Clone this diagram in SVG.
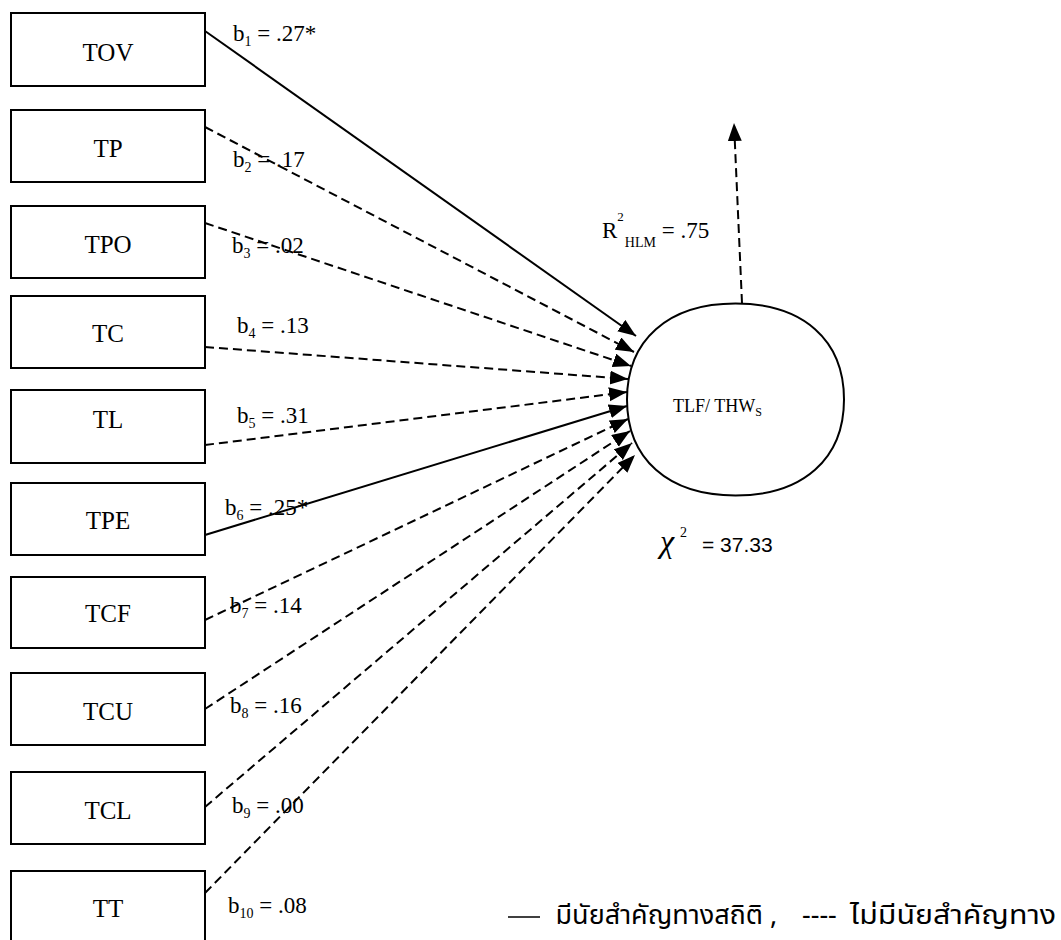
<svg xmlns="http://www.w3.org/2000/svg" width="1061" height="940" viewBox="0 0 1061 940">
<style>
.box{fill:#fff;stroke:#000;stroke-width:2}
.lbl{font-family:"Liberation Serif","Times New Roman",serif;font-size:25px;fill:#000}
.blbl{font-family:"Liberation Serif","Times New Roman",serif;font-size:23px;fill:#000}
.sub{font-size:14px}
.sol{stroke:#000;stroke-width:2;fill:none}
.dsh{stroke:#000;stroke-width:2;fill:none;stroke-dasharray:9 5}
.thai{font-family:"Noto Sans Thai","Loma","Garuda","Tlwg Typo","Norasi","Noto Sans",sans-serif;font-size:27px;fill:#000}
</style>
<defs>
<marker id="ah" markerUnits="userSpaceOnUse" markerWidth="19" markerHeight="15" refX="18" refY="7" orient="auto">
<path d="M0,0 L18,7 L0,14 z" fill="#000"/>
</marker>
</defs>
<g id="connectors">
<line class="sol" x1="205" y1="31" x2="636" y2="336" marker-end="url(#ah)"/>
<line class="dsh" x1="205" y1="127" x2="634" y2="352" marker-end="url(#ah)"/>
<line class="dsh" x1="205" y1="223" x2="631" y2="366" marker-end="url(#ah)"/>
<line class="dsh" x1="205" y1="347" x2="628" y2="379" marker-end="url(#ah)"/>
<line class="dsh" x1="205" y1="445" x2="627" y2="392" marker-end="url(#ah)"/>
<line class="sol" x1="205" y1="535" x2="627" y2="406" marker-end="url(#ah)"/>
<line class="dsh" x1="205" y1="620" x2="628" y2="419" marker-end="url(#ah)"/>
<line class="dsh" x1="205" y1="709" x2="630" y2="431" marker-end="url(#ah)"/>
<line class="dsh" x1="205" y1="807" x2="632" y2="443" marker-end="url(#ah)"/>
<line class="dsh" x1="205" y1="893" x2="635" y2="455" marker-end="url(#ah)"/>
<line class="dsh" x1="742" y1="303" x2="734" y2="123" marker-end="url(#ah)"/>
</g>
<g id="labels">
<text class="blbl" x="233" y="41">b<tspan class="sub" dy="5">1</tspan><tspan dy="-5"> = .27*</tspan></text>
<text class="blbl" x="233" y="167">b<tspan class="sub" dy="5">2</tspan><tspan dy="-5"> = .17</tspan></text>
<text class="blbl" x="232" y="253">b<tspan class="sub" dy="5">3</tspan><tspan dy="-5"> = .02</tspan></text>
<text class="blbl" x="237" y="333">b<tspan class="sub" dy="5">4</tspan><tspan dy="-5"> = .13</tspan></text>
<text class="blbl" x="237" y="423">b<tspan class="sub" dy="5">5</tspan><tspan dy="-5"> = .31</tspan></text>
<text class="blbl" x="225" y="515">b<tspan class="sub" dy="5">6</tspan><tspan dy="-5"> = .25*</tspan></text>
<text class="blbl" x="230" y="613">b<tspan class="sub" dy="5">7</tspan><tspan dy="-5"> = .14</tspan></text>
<text class="blbl" x="230" y="713">b<tspan class="sub" dy="5">8</tspan><tspan dy="-5"> = .16</tspan></text>
<text class="blbl" x="232" y="813">b<tspan class="sub" dy="5">9</tspan><tspan dy="-5"> = .00</tspan></text>
<text class="blbl" x="228" y="913">b<tspan class="sub" dy="5">10</tspan><tspan dy="-5"> = .08</tspan></text>
</g>
<g id="n-TOV"><rect class="box" x="11" y="13" width="194" height="73"/><text class="lbl" x="108" y="61" text-anchor="middle">TOV</text></g>
<g id="n-TP"><rect class="box" x="11" y="110" width="194" height="72"/><text class="lbl" x="108" y="157" text-anchor="middle">TP</text></g>
<g id="n-TPO"><rect class="box" x="11" y="206" width="194" height="72"/><text class="lbl" x="108" y="253" text-anchor="middle">TPO</text></g>
<g id="n-TC"><rect class="box" x="11" y="296" width="194" height="72"/><text class="lbl" x="108" y="342" text-anchor="middle">TC</text></g>
<g id="n-TL"><rect class="box" x="11" y="390" width="194" height="73"/><text class="lbl" x="108" y="428" text-anchor="middle">TL</text></g>
<g id="n-TPE"><rect class="box" x="11" y="483" width="194" height="72"/><text class="lbl" x="108" y="529" text-anchor="middle">TPE</text></g>
<g id="n-TCF"><rect class="box" x="11" y="577" width="194" height="71"/><text class="lbl" x="108" y="622" text-anchor="middle">TCF</text></g>
<g id="n-TCU"><rect class="box" x="11" y="673" width="194" height="72"/><text class="lbl" x="108" y="720" text-anchor="middle">TCU</text></g>
<g id="n-TCL"><rect class="box" x="11" y="772" width="194" height="72"/><text class="lbl" x="108" y="819" text-anchor="middle">TCL</text></g>
<g id="n-TT"><rect class="box" x="11" y="871" width="194" height="75"/><text class="lbl" x="108" y="917" text-anchor="middle">TT</text></g>
<g id="n-TLF">
<path class="sol" d="M627,399.5 C627,340 668,303.5 735.5,303.5 C803,303.5 844,340 844,399.5 C844,459 803,495.5 735.5,495.5 C668,495.5 627,459 627,399.5 Z"/>
<text x="673" y="412" font-family="Liberation Serif,serif" font-size="18" fill="#000">TLF/ THW<tspan font-size="12" dy="4">S</tspan></text>
</g>
<g id="stats">
<text x="602" y="238" font-family="Liberation Serif,serif" font-size="23" fill="#000">R<tspan font-size="13" dy="-17">2</tspan><tspan font-size="14" dy="26" dx="1">HLM</tspan><tspan dy="-9"> = .75</tspan></text>
<text x="660" y="552" font-family="Liberation Serif,serif" font-size="32" font-style="italic" fill="#000">χ</text>
<text x="680" y="537" font-family="Liberation Serif,serif" font-size="14" fill="#000">2</text>
<text x="702" y="552" font-family="Liberation Sans,Arial,sans-serif" font-size="21" fill="#000">= 37.33</text>
</g>
<g id="legend">
<line x1="508" y1="917" x2="540" y2="917" stroke="#000" stroke-width="1.5"/>
<text class="thai" x="763" y="924" text-anchor="end">มีนัยสำคัญทางสถิติ</text>
<text class="thai" x="770" y="924">,</text>
<text class="thai" x="802" y="924">----</text>
<text class="thai" x="850" y="924" textLength="206" lengthAdjust="spacingAndGlyphs">ไม่มีนัยสำคัญทาง</text>
</g>
</svg>
